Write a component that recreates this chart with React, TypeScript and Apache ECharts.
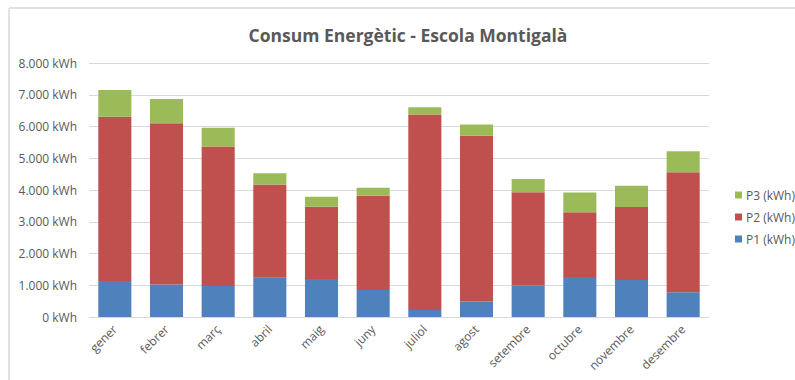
import React, { useEffect, useRef } from "react";
import * as echarts from "echarts";

const months = ["gener", "febrer", "març", "abril", "maig", "juny", "juliol", "agost", "setembre", "octubre", "novembre", "desembre"];
const p1 = [1130, 1020, 980, 1240, 1200, 850, 220, 490, 990, 1260, 1165, 780];
const p2 = [5180, 5080, 4390, 2930, 2270, 2970, 6160, 5220, 2940, 2040, 2300, 3780];
const p3 = [840, 770, 590, 360, 315, 250, 230, 350, 420, 620, 670, 660];
const seriesNames = ["P1 (kWh)", "P2 (kWh)", "P3 (kWh)"];
const colors = ["#4F81BD", "#C0504D", "#9BBB59"];
const title = "Consum Energètic - Escola Montigalà";

const FONT = "'Open Sans', sans-serif";

export default function App() {
  const ref = useRef<HTMLDivElement>(null);
  useEffect(() => {
    if (!ref.current) return;
    const chart = echarts.init(ref.current, null, { renderer: "svg" });
    const data = [p1, p2, p3];
    chart.setOption({
      animation: false,
      backgroundColor: "#ffffff",
      title: {
        text: title,
        left: 403,
        top: 21,
        textAlign: "center",
        textStyle: { fontFamily: FONT, fontSize: 17.5, fontWeight: "bold", color: "#595959" },
      },
      legend: {
        orient: "vertical",
        left: 730,
        top: 184,
        data: [seriesNames[2], seriesNames[1], seriesNames[0]],
        icon: "rect",
        itemWidth: 7,
        itemHeight: 7,
        itemGap: 10,
        textStyle: { fontFamily: FONT, fontSize: 12, color: "#595959", padding: [0, 0, 0, -1] },
      },
      graphic: [
        { type: "line", shape: { x1: 9, y1: 8, x2: 795, y2: 8 }, style: { stroke: "#d9d9d9", lineWidth: 1.5 } },
        { type: "line", shape: { x1: 9, y1: 8, x2: 9, y2: 380 }, style: { stroke: "#d9d9d9", lineWidth: 1.5 } },
      ],
      grid: { left: 89, top: 63, width: 620, height: 254 },
      xAxis: {
        type: "category",
        data: months,
        axisLine: { show: true, lineStyle: { color: "#d9d9d9" } },
        axisTick: { show: false },
        axisLabel: { rotate: 45, margin: 10, fontFamily: FONT, fontSize: 12, color: "#595959", interval: 0 },
      },
      yAxis: {
        type: "value",
        min: 0,
        max: 8000,
        interval: 1000,
        axisLine: { show: false },
        axisTick: { show: false },
        splitLine: { lineStyle: { color: "#d9d9d9", width: 1 } },
        axisLabel: {
          margin: 12,
          fontFamily: FONT,
          fontSize: 12,
          color: "#595959",
          formatter: (v: number) => (v === 0 ? "0" : (v / 1000).toFixed(3)) + " kWh",
        },
      },
      series: data.map((d, i) => ({
        name: seriesNames[i],
        type: "bar",
        stack: "total",
        data: d,
        barWidth: "64%",
        itemStyle: { color: colors[i] },
      })),
    });
    return () => chart.dispose();
  }, []);
  return (
    <div
      ref={ref}
      style={{ position: "fixed", left: 0, top: 0, width: 795, height: 380 }}
    />
  );
}
